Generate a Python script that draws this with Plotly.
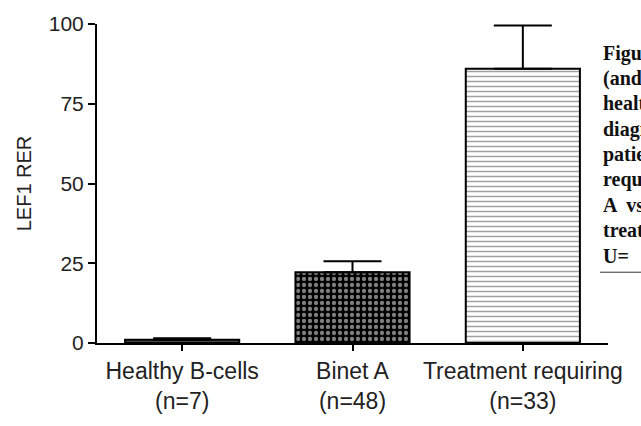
import plotly.graph_objects as go

# Groups, mean LEF1 relative expression ratio and standard error
categories = ["Healthy B-cells<br>(n=7)", "Binet A<br>(n=48)", "Treatment requiring<br>(n=33)"]
means = [1.0, 22.2, 86.0]
sem = [0.5, 3.4, 13.5]
y_ticks = [0, 25, 50, 75, 100]

# Neighbouring caption column (cut off at the page edge)
caption_lines = ["Figure", "(and", "healthy", "diagnosed", "patients",
                 "requiring", "A  vs", "treatment", "U= "]

W, H = 641, 426
L, R, T, B = 97, 33, 20, 59
pw, ph = W - L - R, H - T - B


def px_x(px):
    return (px - L) / pw


def px_y(py):
    return (H - B - py) / ph


fig = go.Figure()
fig.add_trace(go.Bar(
    x=categories,
    y=means,
    width=0.67,
    marker=dict(
        color=["#4a4a4a", "black", "white"],
        line=dict(color="black", width=2),
        pattern=dict(
            shape=["", ".", "-"],
            fgcolor=["#4a4a4a", "white", "#555555"],
            bgcolor=["#4a4a4a", "black", "white"],
            size=[4, 6, 5],
            solidity=[0.3, 0.4, 0.3],
            fillmode="overlay",
        ),
    ),
    error_y=dict(
        type="data",
        symmetric=False,
        array=sem,
        arrayminus=[0, 0, 0],
        color="black",
        thickness=2,
        width=29,
    ),
    showlegend=False,
))

font_main = "Liberation Sans, Arial, sans-serif"

fig.update_layout(
    width=W,
    height=H,
    margin=dict(l=L, r=R, t=T, b=B, pad=0),
    paper_bgcolor="white",
    plot_bgcolor="white",
    font=dict(family=font_main, color="#222222"),
    xaxis=dict(
        range=[-0.5, 2.5],
        showline=True,
        linecolor="black",
        linewidth=2,
        ticks="outside",
        ticklen=6,
        tickwidth=2,
        tickcolor="black",
        tickfont=dict(size=23, family=font_main, color="#222222"),
        showgrid=False,
        zeroline=False,
    ),
    yaxis=dict(
        range=[0, 100],
        tickvals=y_ticks,
        showline=True,
        linecolor="black",
        linewidth=2,
        ticks="outside",
        ticklen=7,
        tickwidth=2,
        tickcolor="black",
        tickfont=dict(size=21, family=font_main, color="#222222"),
        showgrid=False,
        zeroline=False,
        title=dict(text="LEF1 RER", font=dict(size=20, family=font_main, color="#222222"), standoff=12),
    ),
)

# Caption column at the right edge
cap_font = dict(family="Liberation Serif, Times New Roman, serif", size=20, color="#111111")
for i, line in enumerate(caption_lines):
    fig.add_annotation(
        xref="paper", yref="paper",
        x=px_x(601), y=px_y(52 + i * 27.5),
        xanchor="left", yanchor="middle",
        text="<b>" + line + "</b>",
        showarrow=False,
        font=cap_font,
    )

fig.add_shape(type="line", xref="paper", yref="paper",
              x0=px_x(600), x1=px_x(645), y0=px_y(290), y1=px_y(290),
              line=dict(color="#333333", width=1))

fig.write_html("out.html")
